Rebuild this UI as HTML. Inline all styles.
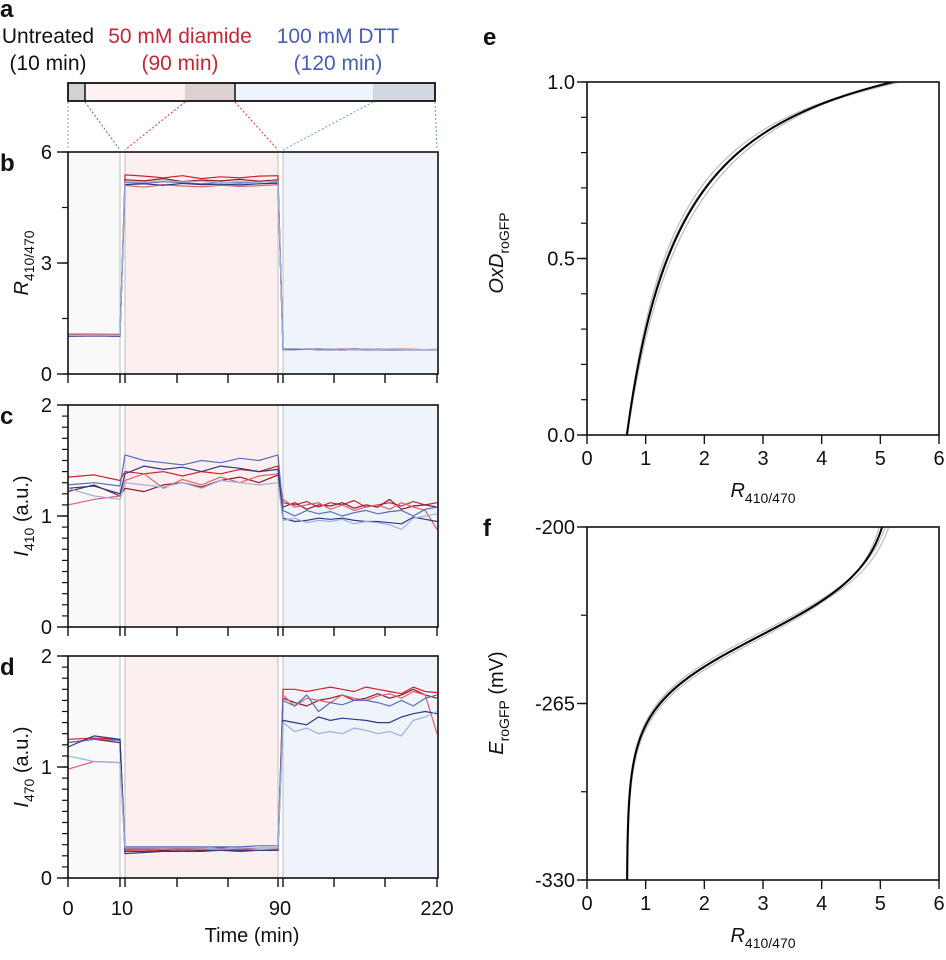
<!DOCTYPE html>
<html><head><meta charset="utf-8">
<style>
html,body{margin:0;padding:0;background:#fff;}
svg text{font-family:"Liberation Sans",sans-serif;fill:#111;}
</style></head>
<body>
<svg id="fig" width="946" height="955" viewBox="0 0 946 955" xmlns="http://www.w3.org/2000/svg"></svg>
<script>
// ---------- data ----------
const timePoints = [0,5,10, 10,20,30,40,50,60,70,80,90, 90,100,110,120,130,140,150,160,170,180,190,200,210,220];
const seriesNames = ['red-1','red-dark','red-light','blue-1','blue-navy','blue-light'];
const seriesColors = ['#d0212f','#8e1b2c','#e0606a','#5570b8','#2b3a86','#9db1dc'];

const ratioRed1 = [1.06,1.07,1.06, 5.38,5.35,5.30,5.36,5.28,5.33,5.30,5.35,5.36, 0.68,0.68,0.67,0.68,0.67,0.67,0.68,0.67,0.66,0.67,0.67,0.66,0.66,0.66];
const ratioRed2 = [1.03,1.05,1.04, 5.25,5.22,5.28,5.20,5.24,5.22,5.26,5.21,5.25, 0.67,0.67,0.67,0.66,0.67,0.66,0.67,0.66,0.66,0.66,0.67,0.66,0.66,0.66];
const ratioRed3 = [1.08,1.08,1.07, 5.10,5.05,5.12,5.08,5.06,5.10,5.07,5.09,5.12, 0.68,0.67,0.68,0.67,0.67,0.68,0.67,0.67,0.67,0.66,0.67,0.67,0.66,0.67];
const ratioBlue1 = [1.05,1.04,1.05, 5.18,5.15,5.20,5.17,5.14,5.18,5.16,5.19,5.20, 0.67,0.67,0.67,0.67,0.66,0.67,0.67,0.66,0.67,0.66,0.66,0.66,0.66,0.66];
const ratioBlue2 = [1.02,1.03,1.02, 5.12,5.14,5.10,5.15,5.12,5.13,5.11,5.14,5.16, 0.66,0.66,0.67,0.66,0.66,0.66,0.66,0.66,0.66,0.66,0.65,0.66,0.65,0.65];
const ratioBlue3 = [1.04,1.05,1.04, 5.20,5.18,5.22,5.19,5.21,5.17,5.20,5.18,5.22, 0.67,0.68,0.67,0.67,0.67,0.67,0.66,0.67,0.66,0.67,0.66,0.66,0.66,0.66];

const i410Red1 = [1.35,1.37,1.32, 1.40,1.38,1.40,1.36,1.40,1.38,1.42,1.40,1.45, 1.12,1.10,1.13,1.08,1.12,1.10,1.14,1.08,1.10,1.12,1.09,1.13,1.10,1.12];
const i410Red2 = [1.22,1.28,1.18, 1.25,1.22,1.28,1.30,1.26,1.32,1.35,1.30,1.37, 1.08,1.12,1.06,1.10,1.09,1.12,1.07,1.10,1.08,1.15,1.06,1.09,1.10,1.08];
const i410Red3 = [1.10,1.15,1.18, 1.32,1.38,1.25,1.33,1.28,1.35,1.30,1.36,1.38, 1.15,1.08,1.10,1.12,1.06,1.10,1.05,1.08,1.10,1.06,1.12,1.08,1.05,0.88];
const i410Blue1 = [1.28,1.30,1.27, 1.55,1.50,1.48,1.46,1.50,1.48,1.52,1.50,1.55, 1.05,1.00,1.05,1.02,1.04,1.00,1.03,1.05,1.02,1.04,1.05,1.00,1.06,1.08];
const i410Blue2 = [1.25,1.27,1.20, 1.38,1.45,1.42,1.44,1.40,1.45,1.43,1.40,1.42, 0.98,0.95,0.96,0.98,0.97,0.98,0.96,0.95,0.95,0.94,0.93,0.99,0.97,0.95];
const i410Blue3 = [1.25,1.18,1.15, 1.30,1.28,1.26,1.30,1.25,1.32,1.30,1.28,1.30, 0.96,0.98,0.94,0.96,0.95,0.97,0.93,0.95,0.94,0.92,0.88,0.98,1.00,1.02];

const i470Red1 = [1.25,1.26,1.25, 0.26,0.26,0.27,0.26,0.26,0.27,0.26,0.27,0.27, 1.70,1.70,1.68,1.70,1.72,1.70,1.68,1.72,1.70,1.68,1.66,1.72,1.68,1.67];
const i470Red2 = [1.22,1.25,1.22, 0.24,0.24,0.25,0.24,0.25,0.25,0.24,0.25,0.25, 1.62,1.58,1.55,1.60,1.62,1.65,1.60,1.62,1.66,1.62,1.65,1.70,1.65,1.62];
const i470Red3 = [0.98,1.05,1.04, 0.25,0.25,0.26,0.25,0.26,0.25,0.26,0.25,0.26, 1.65,1.55,1.62,1.60,1.58,1.65,1.62,1.60,1.64,1.66,1.62,1.68,1.65,1.30];
const i470Blue1 = [1.22,1.25,1.24, 0.28,0.28,0.28,0.28,0.28,0.28,0.28,0.29,0.29, 1.60,1.55,1.65,1.50,1.58,1.56,1.60,1.60,1.58,1.55,1.60,1.55,1.62,1.65];
const i470Blue2 = [1.18,1.28,1.25, 0.22,0.23,0.24,0.24,0.24,0.25,0.25,0.25,0.25, 1.42,1.40,1.38,1.45,1.42,1.44,1.43,1.42,1.40,1.40,1.45,1.48,1.50,1.48];
const i470Blue3 = [1.10,1.05,1.04, 0.27,0.27,0.27,0.27,0.27,0.26,0.27,0.27,0.27, 1.40,1.32,1.35,1.30,1.32,1.30,1.35,1.33,1.30,1.32,1.28,1.42,1.45,1.50];

// calibration curve parameters (one per replicate; last is the mean, black)
const rRedValues = [0.68,0.69,0.67,0.68];
const rOxValues  = [5.30,5.15,5.35,5.22];
const k470Values = [0.16,0.20,0.17,0.18];
const e0Value = -262;
const rtOver2F = 12.8;

const timeTickLabels = ['0','10','90','220'];
const ratioTicks = [0,3,6];
const intTicks = [0,1,2];
const oxdTicks = ['0.0','0.5','1.0'];
const eTicks = [-200,-265,-330];
const rTicks = [0,1,2,3,4,5,6];

// ---------- helpers ----------
const NS='http://www.w3.org/2000/svg';
const svg=document.getElementById('fig');
function mk(tag,attrs,parent){const e=document.createElementNS(NS,tag);for(const k in attrs)e.setAttribute(k,attrs[k]);(parent||svg).appendChild(e);return e;}

function xTime(t,i){
  if(i<3) return 68+(t/10)*52;
  if(i<12) return 125+((t-10)/80)*153;
  return 283+((t-90)/130)*154;
}

function timePanel(name,top,bottom,yMax,seriesList,majorTicks,minorStep){
  const g=mk('g',{});
  
  
  const y=v=>bottom-(v/yMax)*(bottom-top);
  const bg1=mk('rect',{x:68,y:top,width:52,height:bottom-top,fill:'#f9f9fa'},g);
  
  const bg2=mk('rect',{x:125,y:top,width:153,height:bottom-top,fill:'#fbf0ef'},g);
  
  const bg3=mk('rect',{x:283,y:top,width:155,height:bottom-top,fill:'#eff4fb'},g);
  
  [120,125,278,283].forEach(xx=>mk('line',{x1:xx,x2:xx,y1:top,y2:bottom,stroke:'#c9c9c9','stroke-width':1.2},g));
  seriesList.forEach((vals,si)=>{
    let d='';
    vals.forEach((v,i)=>{d+=(i?'L':'M')+xTime(timePoints[i],i).toFixed(1)+','+y(v).toFixed(1);});
    const p=mk('path',{d:d,fill:'none',stroke:seriesColors[si],'stroke-width':1.2,'stroke-linejoin':'round'},g);
    
    
  });
  const fr=mk('rect',{x:68,y:top,width:370,height:bottom-top,fill:'none',stroke:'#111','stroke-width':1.6},g);
  
  for(let v=0;v<=yMax+1e-9;v+=minorStep) mk('line',{x1:62,x2:68,y1:y(v),y2:y(v),stroke:'#111','stroke-width':1.2},g);
  majorTicks.forEach(v=>{
    mk('line',{x1:57,x2:68,y1:y(v),y2:y(v),stroke:'#111','stroke-width':1.4},g);
    const t=mk('text',{x:52,y:y(v)+7,'font-size':20,'text-anchor':'end'},g);t.textContent=v;
    
  });
  [68,120,125,177,228,278,283,334,385,437].forEach(xx=>mk('line',{x1:xx,x2:xx,y1:bottom,y2:bottom+9,stroke:'#111','stroke-width':1.4},g));
  return g;
}

// ---------- panel a ----------
function txt(x,y,s,opts,name){const t=mk('text',Object.assign({x:x,y:y},opts||{}));t.textContent=s;return t;}
txt(0,17,'a',{'font-size':24,'font-weight':'bold'},'panel-label-a');
txt(48,43,'Untreated',{'font-size':21,'text-anchor':'middle'},'untreated-label');
txt(48,70,'(10 min)',{'font-size':21,'text-anchor':'middle'},'untreated-duration');
const rc='#c0283a',bc='#4a5fae';
txt(180,43,'50 mM diamide',{'font-size':21,'text-anchor':'middle',style:'fill:'+rc},'diamide-label');
txt(180,70,'(90 min)',{'font-size':21,'text-anchor':'middle',style:'fill:'+rc},'diamide-duration');
txt(338,43,'100 mM DTT',{'font-size':21,'text-anchor':'middle',style:'fill:'+bc},'dtt-label');
txt(338,70,'(120 min)',{'font-size':21,'text-anchor':'middle',style:'fill:'+bc},'dtt-duration');
const tl=mk('g',{});
mk('rect',{x:68,y:83,width:17,height:18,fill:'#d2d2d4'},tl);
mk('rect',{x:85,y:83,width:100,height:18,fill:'#fbf1f0'},tl);
mk('rect',{x:185,y:83,width:50,height:18,fill:'#dcd1d1'},tl);
mk('rect',{x:235,y:83,width:138,height:18,fill:'#eff4fb'},tl);
mk('rect',{x:373,y:83,width:62,height:18,fill:'#d3d8de'},tl);
mk('line',{x1:85,x2:85,y1:83,y2:101,stroke:'#111','stroke-width':1.5},tl);
mk('line',{x1:235,x2:235,y1:83,y2:101,stroke:'#111','stroke-width':1.5},tl);
mk('rect',{x:68,y:83,width:367,height:18,fill:'none',stroke:'#111','stroke-width':1.8},tl);
[[68,68,'#9aa0a8'],[85,120,'#5a6f8a'],[185,125,'#d0303f'],[235,278,'#d0303f'],[373,283,'#5aa0d0'],[435,437,'#5aa0d0']].forEach(c=>{
  mk('line',{x1:c[0],y1:102,x2:c[1],y2:150,stroke:c[2],'stroke-width':1,'stroke-dasharray':'2,2'},tl);
});

// ---------- panels b, c, d ----------
timePanel('panel-b-ratio',152,374,6,[ratioRed1,ratioRed2,ratioRed3,ratioBlue1,ratioBlue2,ratioBlue3],ratioTicks,1.5);
timePanel('panel-c-i410',405,627,2,[i410Red1,i410Red2,i410Red3,i410Blue1,i410Blue2,i410Blue3],intTicks,0.1);
timePanel('panel-d-i470',656,878,2,[i470Red1,i470Red2,i470Red3,i470Blue1,i470Blue2,i470Blue3],intTicks,0.1);
txt(0,171,'b',{'font-size':24,'font-weight':'bold'},'panel-label-b');
txt(0,424,'c',{'font-size':24,'font-weight':'bold'},'panel-label-c');
txt(0,675,'d',{'font-size':24,'font-weight':'bold'},'panel-label-d');
[68,122,280,437].forEach((xx,i)=>txt(xx,915,timeTickLabels[i],{'font-size':20,'text-anchor':'middle'},'x-tick-label'));
txt(252,942,'Time (min)',{'font-size':20,'text-anchor':'middle'},'x-axis-title');

function ylab(x,y,main,sub,rest,name){
  const t=mk('text',{x:0,y:0,'font-size':20,'text-anchor':'middle',transform:`translate(${x},${y}) rotate(-90)`});
  
  const a=mk('tspan',{'font-style':'italic'},t);a.textContent=main;
  const b=mk('tspan',{'font-size':14,dy:6},t);b.textContent=sub;
  if(rest){const c=mk('tspan',{dy:-6},t);c.textContent=rest;}
}
ylab(28,263,'R','410/470','','y-axis-title-b');
ylab(28,516,'I','410',' (a.u.)','y-axis-title-c');
ylab(28,767,'I','470',' (a.u.)','y-axis-title-d');

// ---------- panels e, f ----------
const X0=587,X1=939;
const xR=r=>X0+(r/6)*(X1-X0);
function oxd(r,i){return (r-rRedValues[i])/(k470Values[i]*(rOxValues[i]-r)+r-rRedValues[i]);}
function calPanel(name,top,bottom,yFn,valFn,majorTicks,majorLabels,minorVals){
  const g=mk('g',{});
  const cp=mk('clipPath',{id:'clip-'+name},g);mk('rect',{x:X0,y:top,width:X1-X0,height:bottom-top},cp);
  rRedValues.forEach((rr,i)=>{
    let d='';let n=0;
    const span=rOxValues[i]-rr;
    for(let j=0;j<=500;j++){
      // dense sampling near both ends
      const u=0.5-0.5*Math.cos(Math.PI*j/500);
      const r=rr+span*Math.min(Math.max(u,1e-7),1-1e-7);
      const v=valFn(r,i);let yy=yFn(v);
      if(!isFinite(yy))continue;
      yy=Math.max(top-50,Math.min(bottom+50,yy));
      d+=(n++?'L':'M')+xR(r).toFixed(2)+','+yy.toFixed(2);
    }
    const last=i===rRedValues.length-1;
    const p=mk('path',{d:d,fill:'none',stroke:last?'#000':'#bdbdbd','stroke-width':last?2:1.2,'clip-path':`url(#clip-${name})`},g);
    
    
  });
  mk('rect',{x:X0,y:top,width:X1-X0,height:bottom-top,fill:'none',stroke:'#111','stroke-width':1.6},g);
  minorVals.forEach(v=>mk('line',{x1:X0-6,x2:X0,y1:yFn(v),y2:yFn(v),stroke:'#111','stroke-width':1.2},g));
  majorTicks.forEach((v,i)=>{
    mk('line',{x1:X0-10,x2:X0,y1:yFn(v),y2:yFn(v),stroke:'#111','stroke-width':1.4},g);
    txt(X0-12,yFn(v)+7,majorLabels[i],{'font-size':20,'text-anchor':'end'},'y-tick-label');
  });
  rTicks.forEach(r=>{
    mk('line',{x1:xR(r),x2:xR(r),y1:bottom,y2:bottom+9,stroke:'#111','stroke-width':1.4},g);
    txt(xR(r),bottom+30,String(r),{'font-size':20,'text-anchor':'middle'},'x-tick-label');
  });
  const t=mk('text',{x:763,y:bottom+62,'font-size':20,'text-anchor':'middle'});
  
  const a=mk('tspan',{'font-style':'italic'},t);a.textContent='R';
  const b=mk('tspan',{'font-size':14,dy:6},t);b.textContent='410/470';
}
const eTop=82,eBot=435;
const minorE=[];for(let i=0;i<=10;i++)minorE.push(i/10);
calPanel('panel-e-oxd',eTop,eBot,v=>eBot-v*(eBot-eTop),oxd,[0,0.5,1],oxdTicks,minorE);
const fTop=527,fBot=880;
const yE=e=>fTop+(-200-e)/130*(fBot-fTop);
calPanel('panel-f-potential',fTop,fBot,yE,(r,i)=>{const o=oxd(r,i);return e0Value+rtOver2F*Math.log(o/(1-o));},eTicks,eTicks.map(String),[-200,-232.5,-265,-297.5,-330]);
txt(483,45,'e',{'font-size':24,'font-weight':'bold'},'panel-label-e');
txt(483,536,'f',{'font-size':24,'font-weight':'bold'},'panel-label-f');
(function(){
  const t=mk('text',{x:0,y:0,'font-size':20,'text-anchor':'middle',transform:'translate(503,253) rotate(-90)'});
  
  const a=mk('tspan',{'font-style':'italic'},t);a.textContent='OxD';
  const b=mk('tspan',{'font-size':14,dy:6},t);b.textContent='roGFP';
  const t2=mk('text',{x:0,y:0,'font-size':20,'text-anchor':'middle',transform:'translate(503,703) rotate(-90)'});
  
  const c=mk('tspan',{'font-style':'italic'},t2);c.textContent='E';
  const d=mk('tspan',{'font-size':14,dy:6},t2);d.textContent='roGFP';
  const e=mk('tspan',{dy:-6},t2);e.textContent=' (mV)';
})();
</script>
</body></html>
